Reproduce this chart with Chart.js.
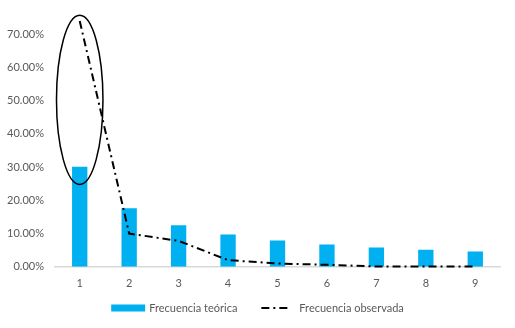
<!DOCTYPE html>
<html>
<head>
<meta charset="utf-8">
<script src="https://cdn.jsdelivr.net/npm/chart.js@4"></script>
<style>
html,body{margin:0;padding:0;background:#fff;}
#wrap{width:515px;height:328px;position:relative;}
</style>
</head>
<body>
<div id="wrap"><canvas id="c" width="515" height="328"></canvas></div>
<script>
const categories = ['1','2','3','4','5','6','7','8','9'];
const teorica = [0.301, 0.176, 0.125, 0.097, 0.079, 0.067, 0.058, 0.051, 0.046];
const observada = [0.74, 0.10, 0.078, 0.02, 0.01, 0.006, 0.001, 0.001, 0.001];
const seriesNames = ['Frecuencia teórica', 'Frecuencia observada'];
// highlighted region (ellipse) around category 1, in data units
const highlightCategory = 0;
const highlightRange = [0.248, 0.757];

const FONT = 'Lato, "Liberation Sans", sans-serif';
const GRAY = '#595959';
const BLUE = '#00b0f0';
const DASH = [8, 4, 2, 4];

const ellipsePlugin = {
  id: 'ellipse',
  afterDraw(chart) {
    const x = chart.scales.x, y = chart.scales.y, ctx = chart.ctx;
    const cx = x.getPixelForValue(highlightCategory);
    const step = x.getPixelForValue(1) - x.getPixelForValue(0);
    const yTop = y.getPixelForValue(highlightRange[1]);
    const yBot = y.getPixelForValue(highlightRange[0]);
    ctx.save();
    ctx.beginPath();
    ctx.ellipse(cx, (yTop + yBot) / 2, step * 0.47, (yBot - yTop) / 2, 0, 0, Math.PI * 2);
    ctx.strokeStyle = '#000';
    ctx.lineWidth = 1.5;
    ctx.stroke();
    ctx.restore();
  }
};

const legendPlugin = {
  id: 'customLegend',
  afterDraw(chart) {
    const ctx = chart.ctx;
    const mid = chart.width / 2;
    const ly = chart.height - 20;
    ctx.save();
    ctx.font = '11px ' + FONT;
    ctx.textBaseline = 'middle';
    const w1 = ctx.measureText(seriesNames[0]).width;
    const w2 = ctx.measureText(seriesNames[1]).width;
    const total = 34 + 4 + w1 + 24 + 29 + 9 + w2;
    let x0 = mid - total / 2;
    ctx.fillStyle = BLUE;
    ctx.fillRect(x0, ly - 3.5, 34, 7);
    ctx.fillStyle = GRAY;
    ctx.fillText(seriesNames[0], x0 + 38, ly);
    let x1 = x0 + 38 + w1 + 24;
    ctx.beginPath();
    ctx.setLineDash(DASH);
    ctx.strokeStyle = '#000';
    ctx.lineWidth = 2;
    ctx.moveTo(x1, ly);
    ctx.lineTo(x1 + 29, ly);
    ctx.stroke();
    ctx.setLineDash([]);
    ctx.fillText(seriesNames[1], x1 + 38, ly);
    ctx.restore();
  }
};

new Chart(document.getElementById('c'), {
  data: {
    labels: categories,
    datasets: [
      {
        type: 'line',
        label: seriesNames[1],
        data: observada,
        borderColor: '#000',
        borderWidth: 2,
        borderDash: DASH,
        pointRadius: 0,
        tension: 0,
        fill: false,
        clip: false,
        order: 0
      },
      {
        type: 'bar',
        label: seriesNames[0],
        data: teorica,
        backgroundColor: BLUE,
        barPercentage: 0.62,
        categoryPercentage: 0.5,
        order: 1
      }
    ]
  },
  options: {
    responsive: false,
    animation: false,
    devicePixelRatio: 1,
    layout: { padding: { left: 0, right: 15, top: 0, bottom: 28 } },
    plugins: {
      legend: { display: false },
      tooltip: { enabled: false }
    },
    scales: {
      x: {
        grid: { display: false, drawTicks: false },
        border: { display: true, color: '#d9d9d9', width: 1.5 },
        ticks: { color: GRAY, font: { family: FONT, size: 11 }, padding: 10 }
      },
      y: {
        min: 0,
        max: 0.75,
        grid: { display: false, drawTicks: false },
        border: { display: false },
        afterBuildTicks(scale) {
          scale.ticks = [0,1,2,3,4,5,6,7].map(i => ({ value: i / 10 }));
        },
        afterFit(scale) { scale.width = 55; },
        ticks: {
          color: GRAY,
          font: { family: FONT, size: 11 },
          padding: 11,
          callback: v => (v * 100).toFixed(2) + '%'
        }
      }
    }
  },
  plugins: [ellipsePlugin, legendPlugin]
});
</script>
</body>
</html>
